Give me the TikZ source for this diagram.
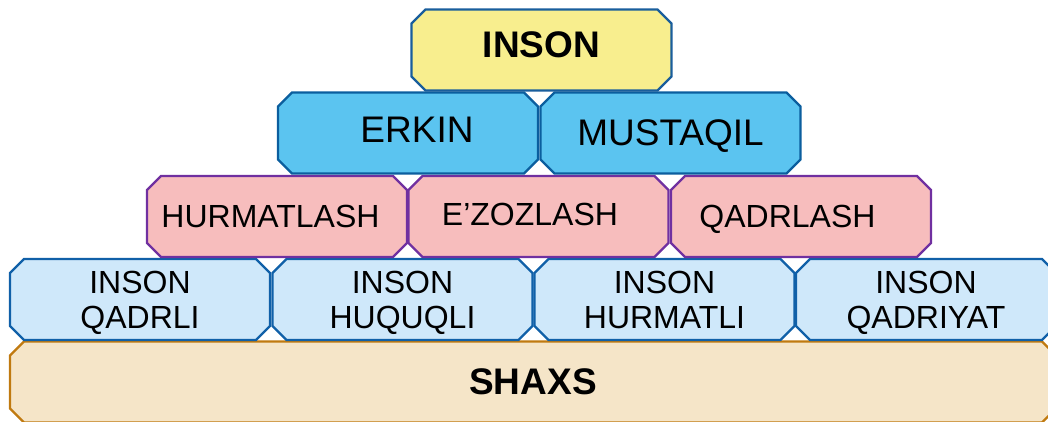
\documentclass[tikz,border=0pt]{standalone}
\usepackage{fontspec}
\setmainfont{Liberation Sans}
\usetikzlibrary{shapes.misc}

\definecolor{insonfill}{HTML}{F8EE8E}
\definecolor{insonline}{HTML}{1A5E9C}
\definecolor{erkinfill}{HTML}{5BC4F0}
\definecolor{erkinline}{HTML}{0B5E9E}
\definecolor{hurmatfill}{HTML}{F7BDBD}
\definecolor{hurmatline}{HTML}{7030A0}
\definecolor{qadrfill}{HTML}{CFE8FA}
\definecolor{qadrline}{HTML}{1060A8}
\definecolor{shaxsfill}{HTML}{F5E5C8}
\definecolor{shaxsline}{HTML}{C07A10}

\begin{document}
\begin{tikzpicture}[x=1pt,y=1pt,
    brick/.style={chamfered rectangle, chamfered rectangle xsep=7pt,
      chamfered rectangle ysep=7pt, draw, line width=2.2pt, inner sep=0pt,
      minimum width=260pt, minimum height=81pt, align=center, text depth=0pt},
    nudge/.style={execute at begin node={\hspace*{#1}}},
    top/.style={brick, fill=insonfill, draw=insonline, font=\fontsize{37}{40}\selectfont\bfseries},
    second/.style={brick, fill=erkinfill, draw=erkinline, font=\fontsize{37}{40}\selectfont},
    third/.style={brick, fill=hurmatfill, draw=hurmatline, font=\fontsize{32}{35}\selectfont},
    fourth/.style={brick, fill=qadrfill, draw=qadrline, font=\fontsize{32}{35}\selectfont},
    base/.style={brick, fill=shaxsfill, draw=shaxsline, minimum width=1046pt, font=\fontsize{37}{40}\selectfont\bfseries}]
  \useasboundingbox (0,0) rectangle (1048,421);
  % poydevor
  \node[base] (shaxs) at (533,39) {SHAXS};
  % to'rtinchi qator
  \node[fourth] (qadrli) at (140,121.5) {INSON\\QADRLI};
  \node[fourth] (huquqli) at (402.5,121.5) {INSON\\HUQUQLI};
  \node[fourth] (hurmatli) at (664.5,121.5) {INSON\\HURMATLI};
  \node[fourth] (qadriyat) at (926,121.5) {INSON\\QADRIYAT};
  % uchinchi qator
  \node[third, nudge=-13pt] (hurmatlash) at (277,204.5) {HURMATLASH};
  \node[third, nudge=-17pt, text depth=4pt] (ezozlash) at (538.5,204.5) {E’ZOZLASH};
  \node[third, nudge=-27pt] (qadrlash) at (801,204.5) {QADRLASH};
  % ikkinchi qator
  \node[second, nudge=18pt, text depth=6pt] (erkin) at (408,288) {ERKIN};
  \node[second] (mustaqil) at (670.5,288) {MUSTAQIL};
  % cho'qqi
  \node[top, text depth=10pt] (inson) at (541.5,371) {INSON};
\end{tikzpicture}
\end{document}
